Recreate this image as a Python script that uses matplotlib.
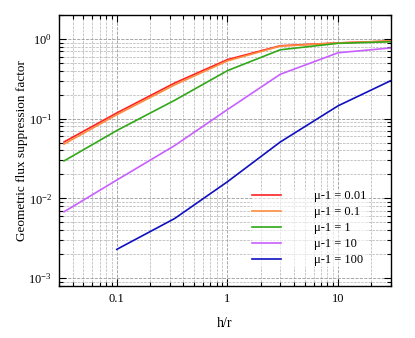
import matplotlib
matplotlib.use("Agg")
import matplotlib.pyplot as plt
from matplotlib.ticker import LogLocator, NullFormatter

plt.rcParams['font.family'] = ['Liberation Serif', 'DejaVu Serif']
plt.rcParams['mathtext.fontset'] = 'custom'
plt.rcParams['mathtext.rm'] = 'Liberation Serif'
plt.rcParams['mathtext.it'] = 'Liberation Serif:italic'
plt.rcParams['font.size'] = 9

# h/r sample points
h_r = [1 / 30, 0.1, 1 / 3, 1, 3, 10, 30]
h_r_blue = [0.1, 1 / 3, 1, 3, 10, 30]

# geometric flux suppression factor for each mu-1
f_001 = [0.051, 0.118, 0.28, 0.55, 0.82, 0.89, 0.94]
f_01 = [0.048, 0.112, 0.265, 0.53, 0.81, 0.89, 0.94]
f_1 = [0.0295, 0.071, 0.17, 0.40, 0.73, 0.88, 0.92]
f_10 = [0.0068, 0.017, 0.046, 0.13, 0.36, 0.67, 0.77]
f_100 = [0.0023, 0.0056, 0.0162, 0.051, 0.145, 0.30]

labels = ['μ-1 = 0.01', 'μ-1 = 0.1', 'μ-1 = 1', 'μ-1 = 10', 'μ-1 = 100']
colors = ['#ff2020', '#ff8c40', '#30a818', '#c860ff', '#1010c0']

fig = plt.figure(figsize=(4.15, 3.38), dpi=100)
ax = fig.add_axes([0.142, 0.154, 0.80, 0.802])

series = [(h_r, f_001), (h_r, f_01), (h_r, f_1), (h_r, f_10), (h_r_blue, f_100)]
for (x, y), lab, c in zip(series, labels, colors):
    ax.plot(x, y, color=c, lw=1.2, label=lab)

ax.set_xscale('log')
ax.set_yscale('log')
ax.set_xlim(0.03, 30)
ax.set_ylim(8e-4, 2)

ax.xaxis.set_minor_locator(LogLocator(base=10, subs=range(2, 10), numticks=20))
ax.xaxis.set_minor_formatter(NullFormatter())
ax.set_xticks([0.1, 1, 10])
ax.set_xticklabels(['0.1', '1', '10'])
ax.yaxis.set_minor_locator(LogLocator(base=10, subs=range(2, 10), numticks=20))
ax.yaxis.set_minor_formatter(NullFormatter())

ax.grid(True, which='major', color='#999999', ls='--', lw=0.6)
ax.grid(True, which='minor', color='#b0b0b0', ls='--', lw=0.5)
ax.tick_params(which='both', direction='in', top=True, right=True, width=0.8,
               labelsize=9)
ax.tick_params(which='major', length=5, pad=5)
ax.tick_params(which='minor', length=3)
for s in ax.spines.values():
    s.set_linewidth(1.0)

ax.set_xlabel('h/r', fontsize=10, labelpad=9)
ax.set_ylabel('Geometric flux suppression factor', fontsize=9.5, labelpad=0)

ax.legend(loc='upper left', bbox_to_anchor=(252 / 415, 1 - 190 / 338),
          bbox_transform=fig.transFigure, frameon=True, facecolor='white',
          edgecolor='none', framealpha=0.6, borderpad=0, borderaxespad=0,
          handlelength=2.3, handletextpad=2.7, labelspacing=0.33, fontsize=9)

fig.savefig('out.png', dpi=100)
